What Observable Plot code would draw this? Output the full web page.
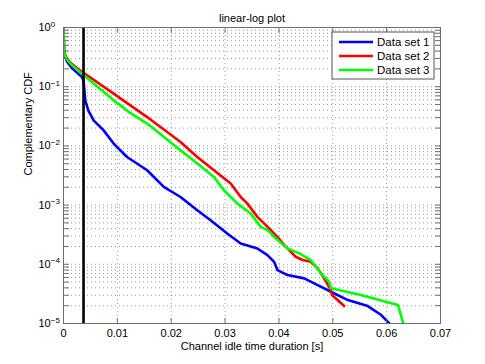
<!DOCTYPE html>
<html>
<head>
<meta charset="utf-8">
<script src="https://cdn.jsdelivr.net/npm/d3@7"></script>
<script src="https://cdn.jsdelivr.net/npm/@observablehq/plot@0.6"></script>
<style>
  html, body { margin: 0; padding: 0; background: #fff; }
  #chart svg { display: block; }
</style>
</head>
<body>
<div id="chart"></div>
<script>
const titleText = "linear-log plot";
const xLabel = "Channel idle time duration [s]";
const yLabel = "Complementary CDF";
const seriesNames = ["Data set 1", "Data set 2", "Data set 3"];
const seriesColors = ["#0000ff", "#ff0000", "#00ff00"];
const xTicks = [0, 0.01, 0.02, 0.03, 0.04, 0.05, 0.06, 0.07];
const xTickLabels = ["0", "0.01", "0.02", "0.03", "0.04", "0.05", "0.06", "0.07"];
const yMajorTicks = [1e-5, 1e-4, 1e-3, 1e-2, 1e-1, 1];
const yTickLabels = ["10^−5", "10^−4", "10^−3", "10^−2", "10^−1", "10^0"];
const thresholdX = 0.00372;

const x1 = [0, 0.00013, 0.00063, 0.00162, 0.00343, 0.00372, 0.00385, 0.00404, 0.0046, 0.00559, 0.00745, 0.00931, 0.0118, 0.01553, 0.01862, 0.02173, 0.02484, 0.02731, 0.0304, 0.0329, 0.036, 0.03787, 0.0391, 0.03973, 0.0416, 0.0447, 0.0472, 0.04966, 0.0528, 0.0565, 0.059, 0.0605];
const y1 = [1, 0.365, 0.267, 0.204, 0.145, 0.128, 0.0936, 0.0588, 0.0398, 0.027, 0.0183, 0.01094, 0.0065, 0.00388, 0.00203, 0.00137, 0.00082, 0.000556, 0.000332, 0.000225, 0.000185, 0.000143, 0.00011, 0.0000798, 0.0000658, 0.0000578, 0.0000446, 0.0000344, 0.0000249, 0.0000197, 0.0000139, 0.00001];

const x2 = [0, 0.00013, 0.00063, 0.00162, 0.00311, 0.00931, 0.01553, 0.02173, 0.02484, 0.02793, 0.03104, 0.0329, 0.03415, 0.036, 0.0379, 0.0397, 0.041, 0.0431, 0.0444, 0.0459, 0.0472, 0.0484, 0.04966, 0.04984, 0.0509, 0.0521];
const y2 = [1, 0.379, 0.3, 0.238, 0.188, 0.0762, 0.0307, 0.01164, 0.0065, 0.00388, 0.00231, 0.00137, 0.00106, 0.000632, 0.000429, 0.000291, 0.000211, 0.000134, 0.000118, 0.00011, 0.0000853, 0.0000578, 0.0000367, 0.0000303, 0.0000249, 0.0000197];

const x3 = [0, 0.00013, 0.00063, 0.00162, 0.00311, 0.00931, 0.0113, 0.01195, 0.01553, 0.02173, 0.02484, 0.02793, 0.02979, 0.03229, 0.03476, 0.0366, 0.0379, 0.0391, 0.0416, 0.0438, 0.0459, 0.0478, 0.0493, 0.04966, 0.0552, 0.0621, 0.0631];
const y3 = [1, 0.365, 0.289, 0.229, 0.176, 0.0588, 0.0431, 0.0383, 0.0238, 0.00843, 0.00503, 0.00299, 0.00178, 0.00106, 0.000721, 0.000429, 0.000377, 0.000291, 0.000185, 0.000153, 0.000118, 0.0000703, 0.0000507, 0.0000393, 0.0000303, 0.0000205, 0.00001];

const xs = [x1, x2, x3];
const ys = [y1, y2, y3];
const data = xs.flatMap((xa, s) => xa.map((x, i) => ({x, y: ys[s][i], series: seriesNames[s]})));

const yMinorTicks = [];
for (let e = -5; e < 0; e++) for (let m = 2; m <= 9; m++) yMinorTicks.push(m * Math.pow(10, e));
const yAllTicks = yMajorTicks.concat(yMinorTicks);

const font = "Liberation Sans, Arial, Helvetica, sans-serif";
const axisColor = "#6e6e6e";
const gridStyle = {stroke: "#000", strokeOpacity: 0.4, strokeDasharray: "1,3", strokeWidth: 1};
const tickShape = {draw(ctx, l) { ctx.moveTo(0, 0); ctx.lineTo(0, -l); }};
const tickLen = 5;

const plot = Plot.plot({
  width: 485,
  height: 364,
  marginTop: 27,
  marginRight: 45,
  marginBottom: 41,
  marginLeft: 63,
  style: {fontFamily: font, fontSize: "11px", color: "#000", background: "#fff"},
  x: {domain: [0, 0.07], axis: null},
  y: {type: "log", domain: [1e-5, 1], axis: null},
  color: {domain: seriesNames, range: seriesColors},
  marks: [
    Plot.gridY(yAllTicks, gridStyle),
    Plot.gridX(xTicks, gridStyle),
    Plot.line(data, {x: "x", y: "y", z: "series", stroke: "series", strokeWidth: 2.6, clip: true}),
    Plot.ruleX([thresholdX], {stroke: "#000", strokeWidth: 2.6}),
    Plot.frame({stroke: axisColor, strokeWidth: 1}),
    // inward ticks
    Plot.vector(xTicks, {x: d => d, frameAnchor: "bottom", length: tickLen, rotate: 0, anchor: "start", shape: tickShape, stroke: axisColor, strokeWidth: 1}),
    Plot.vector(xTicks, {x: d => d, frameAnchor: "top", length: tickLen, rotate: 180, anchor: "start", shape: tickShape, stroke: axisColor, strokeWidth: 1}),
    Plot.vector(yAllTicks, {y: d => d, frameAnchor: "left", length: tickLen, rotate: 90, anchor: "start", shape: tickShape, stroke: axisColor, strokeWidth: 1}),
    Plot.vector(yAllTicks, {y: d => d, frameAnchor: "right", length: tickLen, rotate: -90, anchor: "start", shape: tickShape, stroke: axisColor, strokeWidth: 1}),
    // tick labels
    Plot.text(xTicks, {x: d => d, frameAnchor: "bottom", dy: 13, text: (d, i) => xTickLabels[i], fill: "#000", fontSize: 11}),
    Plot.text(yMajorTicks, {y: d => d, frameAnchor: "left", dx: -25, textAnchor: "start", text: (d, i) => yTickLabels[i], fill: "#000", fontSize: 11}),
    // axis titles
    Plot.text([xLabel], {frameAnchor: "bottom", dy: 26, fill: "#000", fontSize: 11}),
    Plot.text([yLabel], {frameAnchor: "left", dx: -35, rotate: -90, fill: "#000", fontSize: 11}),
    Plot.text([titleText], {frameAnchor: "top", dy: -13, fill: "#000", fontSize: 11})
  ]
});

document.getElementById("chart").appendChild(plot);

// render "10^e" tick labels with a real superscript exponent
d3.select(plot).selectAll("text").each(function () {
  const t = d3.select(this);
  if (this.querySelector("tspan")) return;
  const s = t.text();
  const m = /^10\^(.+)$/.exec(s);
  if (!m) return;
  t.text("10");
  t.append("tspan").attr("dy", "-0.55em").attr("font-size", "8px").text(m[1]);
});

// legend
const xr = plot.scale("x").range;
const yr = plot.scale("y").range;
const frameTop = Math.min(yr[0], yr[1]);
const svgSel = d3.select(plot);
const lgW = 102, lgH = 47;
const lgX = xr[1] - 6 - lgW, lgY = frameTop + 5;
const lg = svgSel.append("g").attr("font-family", font).attr("font-size", 11.5).attr("text-anchor", "start");
lg.append("rect").attr("x", lgX).attr("y", lgY).attr("width", lgW).attr("height", lgH)
  .attr("fill", "#fff").attr("stroke", "#555").attr("stroke-width", 1);
seriesNames.forEach((name, i) => {
  const cy = lgY + 10 + i * 14;
  lg.append("line").attr("x1", lgX + 7).attr("x2", lgX + 41).attr("y1", cy).attr("y2", cy)
    .attr("stroke", seriesColors[i]).attr("stroke-width", 2.6);
  lg.append("text").attr("x", lgX + 45).attr("y", cy).attr("dy", "0.35em").attr("fill", "#000").text(name);
});
</script>
</body>
</html>
